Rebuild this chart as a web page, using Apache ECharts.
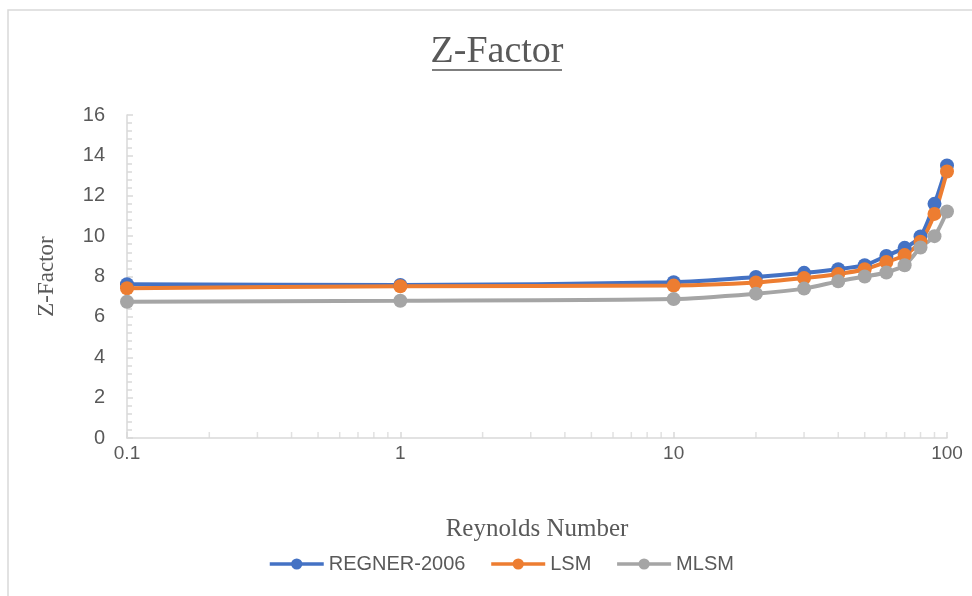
<!DOCTYPE html>
<html>
<head>
<meta charset="utf-8">
<script src="https://cdn.jsdelivr.net/npm/echarts@6/dist/echarts.min.js"></script>
<style>
html,body{margin:0;padding:0;background:#fff;}
#chart{width:972px;height:596px;}
</style>
</head>
<body>
<div id="chart"></div>
<script>
var reynolds = [0.1, 1, 10, 20, 30, 40, 50, 60, 70, 80, 90, 100];
var regner2006 = [7.62, 7.58, 7.72, 7.98, 8.18, 8.36, 8.56, 9.02, 9.42, 9.98, 11.6, 13.5];
var lsm = [7.42, 7.52, 7.55, 7.7, 7.92, 8.12, 8.36, 8.72, 9.06, 9.72, 11.1, 13.2];
var mlsm = [6.75, 6.8, 6.88, 7.15, 7.4, 7.76, 8.0, 8.2, 8.56, 9.44, 10.0, 11.22];
var minorXTicks = [0.2, 0.3, 0.4, 0.5, 0.6, 0.7, 0.8, 0.9, 2, 3, 4, 5, 6, 7, 8, 9, 20, 30, 40, 50, 60, 70, 80, 90];
var seriesNames = ['REGNER-2006', 'LSM', 'MLSM'];
var colors = ['#4472C4', '#ED7D31', '#A5A5A5'];

function pairs(xs, ys) { return xs.map(function (x, i) { return [x, ys[i]]; }); }

var chart = echarts.init(document.getElementById('chart'));
var sansFont = '"Liberation Sans", Arial, sans-serif';
var serifFont = '"Liberation Serif", "Times New Roman", serif';
var axisGray = '#D9D9D9';
var textGray = '#595959';

function lineSeries(name, ys, color) {
  return {
    name: name, type: 'line', data: pairs(reynolds, ys),
    smooth: 0.25, symbol: 'circle', symbolSize: 14,
    lineStyle: { width: 4, color: color },
    itemStyle: { color: color },
    z: 3
  };
}

chart.setOption({
  animation: false,
  color: colors,
  graphic: [
    { type: 'rect', shape: { x: 8, y: 10, width: 1000, height: 620 }, style: { fill: 'none', stroke: '#D9D9D9', lineWidth: 1.5 }, silent: true },
    { type: 'text', x: 497, y: 33, style: { text: 'Z-Factor', fontFamily: serifFont, fontSize: 38, fill: textGray, align: 'center', verticalAlign: 'top' }, silent: true },
    { type: 'line', shape: { x1: 432, y1: 70, x2: 562, y2: 70 }, style: { stroke: '#7F7F7F', lineWidth: 2 }, silent: true }
  ],
  grid: { left: 127, right: 25, top: 115, bottom: 158 },
  legend: {
    bottom: 17, left: 263,
    data: seriesNames,
    itemWidth: 54, itemHeight: 14, itemGap: 24,
    lineStyle: { width: 3.5 },
    textStyle: { fontFamily: sansFont, fontSize: 20, color: textGray }
  },
  xAxis: {
    type: 'log', logBase: 10, min: 0.1, max: 100,
    name: 'Reynolds Number', nameLocation: 'middle', nameGap: 79,
    nameTextStyle: { fontFamily: serifFont, fontSize: 25, color: textGray },
    axisLine: { lineStyle: { color: axisGray, width: 1.5 } },
    axisTick: { show: true, inside: true, length: 6, lineStyle: { color: axisGray, width: 1.5 } },
    axisLabel: { fontFamily: sansFont, fontSize: 19, color: textGray, margin: 6,
      formatter: function (v) { return String(+v.toPrecision(6)); } },
    splitLine: { show: false }
  },
  yAxis: {
    type: 'value', min: 0, max: 16, interval: 2,
    name: 'Z-Factor', nameLocation: 'middle', nameGap: 69, nameRotate: 90,
    nameTextStyle: { fontFamily: serifFont, fontSize: 23, color: textGray },
    axisLine: { show: true, lineStyle: { color: axisGray, width: 1.5 } },
    axisTick: { show: true, inside: true, length: 6, lineStyle: { color: axisGray, width: 1.5 } },
    minorTick: { show: true, splitNumber: 5, length: 5, lineStyle: { color: axisGray, width: 1.5 } },
    axisLabel: { fontFamily: sansFont, fontSize: 20, color: textGray, margin: 22 },
    splitLine: { show: false }
  },
  series: [
    lineSeries(seriesNames[0], regner2006, colors[0]),
    lineSeries(seriesNames[1], lsm, colors[1]),
    lineSeries(seriesNames[2], mlsm, colors[2]),
    {
      name: 'minorTicks', type: 'scatter', silent: true,
      data: minorXTicks.map(function (x) { return [x, 0]; }),
      symbol: 'rect', symbolSize: [1.5, 6], symbolOffset: [0, -3],
      itemStyle: { color: axisGray }, z: 1
    }
  ]
});
</script>
</body>
</html>
